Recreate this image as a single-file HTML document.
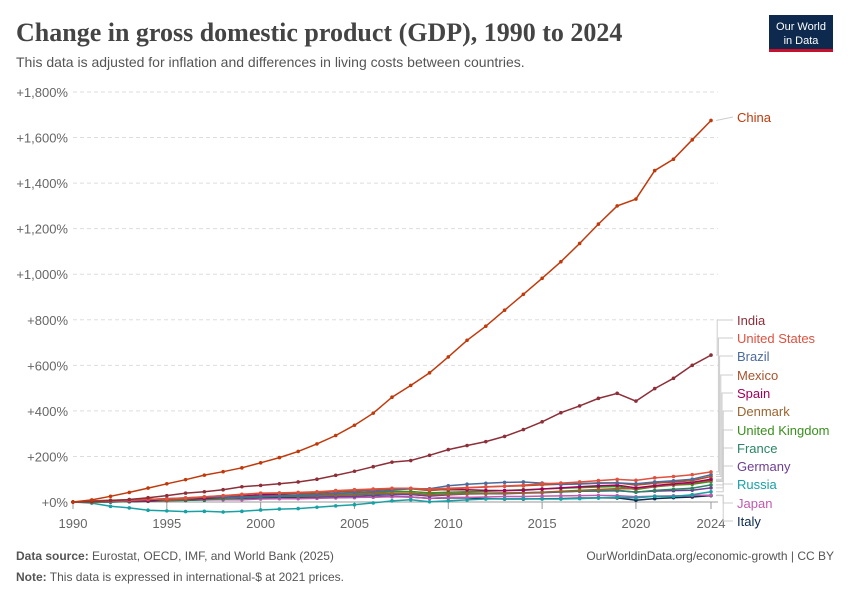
<!DOCTYPE html>
<html><head><meta charset="utf-8"><style>
body{margin:0;background:#fff;font-family:"Liberation Sans",sans-serif}
#c{position:relative;width:850px;height:600px}
</style></head><body>
<div id="c">
<svg id="s" width="850" height="600" xmlns="http://www.w3.org/2000/svg">
<text x="16" y="41" font-family="Liberation Serif,serif" font-weight="bold" font-size="26" fill="#444">Change in gross domestic product (GDP), 1990 to 2024</text>
<text x="16" y="67" font-size="14" fill="#555">This data is adjusted for inflation and differences in living costs between countries.</text>
<g><rect x="769" y="15" width="64" height="36" fill="#0d2a4e"/><rect x="769" y="49" width="64" height="3" fill="#c8102e"/>
<text x="801" y="30" font-size="11" fill="#fff" text-anchor="middle">Our World</text><text x="801" y="44" font-size="11" fill="#fff" text-anchor="middle">in Data</text></g>
<g id="grid"></g><g id="lines"></g><g id="legend"></g>
<text x="16" y="560" font-size="12" fill="#555"><tspan font-weight="bold">Data source:</tspan> Eurostat, OECD, IMF, and World Bank (2025)</text>
<text x="834" y="560" font-size="12" fill="#555" text-anchor="end">OurWorldinData.org/economic-growth | CC BY</text>
<text x="16" y="581" font-size="12" fill="#555"><tspan font-weight="bold">Note:</tspan> This data is expressed in international-$ at 2021 prices.</text>
</svg></div>
<script>
const years=[];for(let y=1990;y<=2024;y++)years.push(y);
const yTicks=[0,200,400,600,800,1000,1200,1400,1600,1800];
const xTicks=[1990,1995,2000,2005,2010,2015,2020,2024];
const names=["China","India","United States","Brazil","Mexico","Spain","Denmark","United Kingdom","France","Germany","Russia","Japan","Italy"];
const col2=["#c0390b","#8c2f39","#e0513f","#4c6a9c","#a8532c","#a2005c","#9a652e","#3a8f1e","#2c8465","#6d3e91","#18a1a5","#c05aae","#0d2a4e"];
const china=[0,9,25,42,61,80,98,118,133,150,172,195,222,255,292,337,390,460,512,567,637,710,772,842,912,982,1055,1135,1220,1300,1330,1455,1505,1590,1675];
const india=[0,1,6,11,19,28,39,45,54,67,73,80,88,100,117,135,155,175,182,205,230,248,265,288,318,352,392,422,455,477,443,498,543,600,645];
const us=[0,0,4,7,11,14,18,23,28,34,39,40,42,45,50,54,57,60,60,56,60,63,67,70,74,80,83,88,94,99,95,106,112,120,132];
const brazil=[0,1,0,5,11,15,18,22,22,22,26,27,30,32,38,42,46,52,58,58,71,78,82,86,88,83,77,79,82,84,80,88,93,100,120];
const mexico=[0,4,8,10,15,7,13,22,28,31,38,38,39,41,46,48,54,56,58,50,56,62,66,69,71,75,78,81,84,84,74,82,88,94,112];
const spain=[0,3,4,3,6,9,12,16,21,26,31,35,38,41,45,49,53,57,59,54,54,54,51,50,52,57,62,67,71,74,62,72,80,86,100];
const denmark=[0,1,3,3,8,11,14,17,20,23,27,27,28,28,31,34,38,39,38,32,34,36,37,38,40,43,47,51,55,59,58,68,75,83,95];
const uk=[0,-1,-1,2,6,8,11,14,18,21,26,29,31,35,37,40,43,46,46,40,43,45,47,50,54,57,60,63,66,68,55,67,74,78,90];
const france=[0,1,3,2,5,7,8,11,14,18,22,24,25,27,30,32,35,38,38,34,36,39,39,40,41,43,45,48,50,52,43,51,56,60,75];
const germany=[0,5,7,6,9,11,12,14,16,18,22,23,23,22,24,25,29,32,33,26,31,35,36,36,39,41,44,47,48,49,44,48,50,52,62];
const russia=[0,-5,-19,-26,-36,-39,-42,-41,-44,-41,-35,-31,-29,-23,-17,-12,-4,5,10,1,5,9,13,14,15,13,13,15,18,21,18,25,24,32,45];
const japan=[0,3,4,4,5,7,10,11,10,10,13,14,14,16,18,20,21,23,22,16,20,20,22,24,24,26,27,28,29,28,23,26,27,29,30];
const italy=[0,1,2,1,3,6,7,9,11,13,17,18,18,18,19,20,22,24,22,16,18,18,15,13,13,14,15,17,18,18,8,15,19,22,28];
const series=[china,india,us,brazil,mexico,spain,denmark,uk,france,germany,russia,japan,italy];
const X=y=>73+(y-1990)*(638/34), Y=v=>502-v*(410/1800);
const NS="http://www.w3.org/2000/svg";
function mk(t,a,p){const e=document.createElementNS(NS,t);for(const k in a)e.setAttribute(k,a[k]);p.appendChild(e);return e;}
const g=document.getElementById('grid');
yTicks.forEach(v=>{const l=mk('line',{x1:73,x2:718,y1:Y(v),y2:Y(v),stroke:v?'#ddd':'#999','stroke-dasharray':v?'4,3':''},g);


const t=mk('text',{x:68,y:Y(v)+5,'font-size':13,fill:'#666','text-anchor':'end'},g);t.textContent='+'+v.toLocaleString('en-US')+'%';

});
xTicks.forEach(y=>{mk('line',{x1:X(y),x2:X(y),y1:502,y2:509,stroke:'#999'},g);
const t=mk('text',{x:X(y),y:528,'font-size':13,fill:'#666','text-anchor':'middle'},g);t.textContent=y;

});
const L=document.getElementById('lines');
for(let i=series.length-1;i>=0;i--){const d=series[i];
const p=mk('path',{d:d.map((v,j)=>(j?'L':'M')+X(years[j]).toFixed(1)+','+Y(v).toFixed(1)).join(''),fill:'none',stroke:col2[i],'stroke-width':1.5},L);


d.forEach((v,j)=>{const c=mk('circle',{cx:X(years[j]),cy:Y(v),r:1.8,fill:col2[i]},L);

});}
const G=document.getElementById('legend');
const labY=[121,324,342,360,379,397,415,434,452,470,488,507,525];
names.forEach((n,i)=>{const ey=Y(series[i][34]);const ly=labY[i]-4;
if(i==0)mk('line',{x1:716,x2:733,y1:ey,y2:ly,stroke:'#ccc'},G);
else{const bx=716+Math.min(i,6)*1.2;mk('path',{d:`M716,${ey}H${bx}V${ly}H733`,fill:'none',stroke:'#ccc'},G);}
const t=mk('text',{x:737,y:labY[i]+1,'font-size':13,fill:col2[i]},G);t.textContent=n;

});
</script></body></html>
